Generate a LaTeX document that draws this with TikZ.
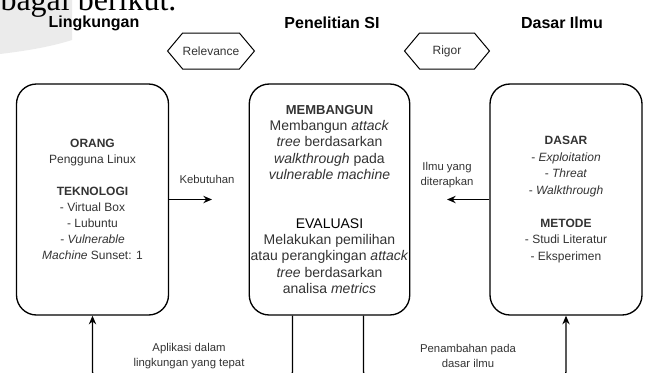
\documentclass[tikz,border=0pt]{standalone}
\usepackage{fontspec}
\setmainfont{Liberation Sans}
\newfontfamily\docserif{Liberation Serif}
\usetikzlibrary{arrows.meta,shapes.symbols}
\definecolor{txtgrey}{RGB}{51,51,51}
\definecolor{pagegrey}{RGB}{235,235,235}
\tikzset{every picture/.style={line width=0.75pt}}
\tikzset{
  areabox/.style={draw, rounded corners=15pt, minimum width=114pt, minimum height=173.25pt, inner sep=1pt, align=center, text=txtgrey, font=\fontsize{9}{12}\selectfont, line width=1pt},
  hexlabel/.style={draw, signal, signal to=west and east, signal pointer angle=100, minimum width=63.75pt, minimum height=27pt, inner sep=0pt, font=\fontsize{9}{11}\selectfont, text=txtgrey},
  headlabel/.style={font=\fontsize{12}{14}\selectfont\bfseries},
  flowlabel/.style={align=center, font=\fontsize{8.5}{11.25}\selectfont, text=txtgrey},
  flowarrow/.style={-{Stealth[length=6.5pt,width=5.5pt]}, line width=1pt}
}

\begin{document}
\begin{tikzpicture}[x=0.75pt,y=0.75pt,yscale=-1,xscale=1]
\useasboundingbox (0,0) rectangle (646,372);
\clip (0,0) rectangle (646,372);

%Page background
\fill[pagegrey] (0,0) -- (72,0) -- (72,40) .. controls (50,47) and (25,51) .. (0,54) -- cycle;
\node[anchor=base west, inner sep=0pt, font=\docserif\fontsize{24}{26}\selectfont] (pagetext) at (0,10) {bagai berikut.};

% Text Node
\node[headlabel] (hlingk) at (94,23) {Lingkungan};
% Text Node
\node[headlabel] (hpenel) at (332,23) {Penelitian SI};
% Text Node
\node[headlabel] (hdasar) at (562,23) {Dasar Ilmu};

%Hexagons
\node[hexlabel] (relev) at (211,51) {Relevance};
\node[hexlabel] (rigor) at (447,51) {Rigor};

%Rounded Rect
\node[areabox] (lingk) at (92.5,199.5) {\textbf{ORANG}\\Pengguna Linux\\[12pt]\textbf{TEKNOLOGI}\\- Virtual Box\\- Lubuntu\\- \textit{Vulnerable}\\\textit{Machine} Sunset: 1};

%Rounded Rect
\node[areabox, font=\fontsize{10.5}{12.3}\selectfont] (penel) at (329.5,199.5) {{\fontsize{9.75}{12}\selectfont\bfseries MEMBANGUN}\\Membangun \textit{attack}\\\textit{tree} berdasarkan\\\textit{walkthrough} pada\\\textit{vulnerable machine}\\[24pt]{\color{black}EVALUASI}\\Melakukan pemilihan\\atau perangkingan \textit{attack}\\\textit{tree} berdasarkan\\analisa \textit{metrics}};

%Rounded Rect
\node[areabox, font=\fontsize{9}{12.4}\selectfont] (dasar) at (566,199.5) {\textbf{DASAR}\\- \textit{Exploitation}\\- \textit{Threat}\\- \textit{Walkthrough}\\[12.4pt]\textbf{METODE}\\- Studi Literatur\\- Eksperimen};

%Straight Lines
\coordinate (kebtip) at (212,199.5);
\draw[flowarrow] (lingk.east) -- (kebtip);
\coordinate (ilmutip) at (447,199.5);
\draw[flowarrow] (dasar.west) -- (ilmutip);

%Lines under the boxes
\draw[flowarrow, rounded corners=6pt] ([xshift=-27.75pt]penel.south) -- ++(0,64) -| (lingk.south);
\draw[flowarrow, rounded corners=6pt] ([xshift=25.5pt]penel.south) -- ++(0,64) -| (dasar.south);

% Text Node
\node[flowlabel] (kebut) at (207,179) {Kebutuhan};
% Text Node
\node[flowlabel] (ilmu) at (447,175) {Ilmu yang\\diterapkan};
% Text Node
\node[flowlabel] (aplik) at (189,356) {Aplikasi dalam\\lingkungan yang tepat};
% Text Node
\node[flowlabel] (penam) at (468,356) {Penambahan pada\\dasar ilmu};

\end{tikzpicture}
\end{document}
